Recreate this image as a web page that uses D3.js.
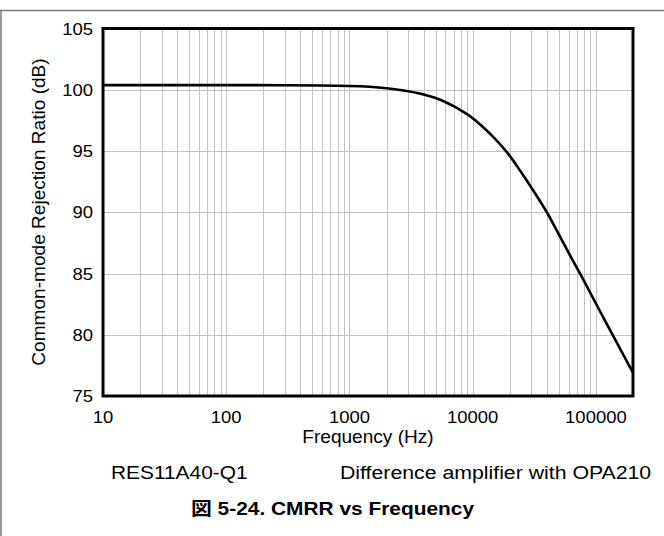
<!DOCTYPE html>
<html>
<head>
<meta charset="utf-8">
<script src="https://cdn.jsdelivr.net/npm/d3@7"></script>
<style>
  html, body { margin: 0; padding: 0; background: #fff; }
  svg { display: block; }
  text { font-family: "Liberation Sans", Arial, "Noto Sans CJK JP", sans-serif; fill: #000; }
</style>
</head>
<body>
<svg id="chart" width="664" height="536"></svg>
<script>
// ---- data ----
const freqHz = [10, 100, 300, 1000, 2000, 3000, 4000, 5000, 6000, 7000, 8000, 10000, 12000, 15000, 20000, 25000, 30000, 40000, 50000, 60000, 80000, 100000, 130000, 160000, 200000];
const cmrrDb = [100.38, 100.38, 100.37, 100.3, 100.12, 99.88, 99.62, 99.32, 99.0, 98.66, 98.32, 97.68, 97.0, 96.05, 94.6, 93.2, 92.0, 90.0, 88.2, 86.7, 84.4, 82.55, 80.4, 78.7, 76.9];
const xTickValues = [10, 100, 1000, 10000, 100000];
const xTickLabels = ["10", "100", "1000", "10000", "100000"];
const yTickValues = [75, 80, 85, 90, 95, 100, 105];
const yTickLabels = ["75", "80", "85", "90", "95", "100", "105"];
const xTitle = "Frequency (Hz)";
const yTitle = "Common-mode Rejection Ratio (dB)";
const noteLeft = "RES11A40-Q1";
const noteRight = "Difference amplifier with OPA210";
const figTitle = "図 5-24. CMRR vs Frequency";

// ---- layout ----
const svg = d3.select("#chart");
const L = 103, R = 633, T = 28.5, B = 396;
const x = d3.scaleLog().domain([10, 200000]).range([L, R]);
const y = d3.scaleLinear().domain([75, 105]).range([B, T]);

// outer figure frame (top & left)
svg.append("line").attr("x1", 0).attr("x2", 664).attr("y1", 10.5).attr("y2", 10.5)
  .attr("stroke", "#7a7a7a").attr("stroke-width", 1.5);
svg.append("line").attr("x1", 1).attr("x2", 1).attr("y1", 10).attr("y2", 536)
  .attr("stroke", "#7a7a7a").attr("stroke-width", 1.5);

// grid: vertical minor/major
const vGrid = [];
for (let d = 10; d < 200000; d *= 10) {
  for (let m = 1; m <= 9; m++) {
    const v = d * m;
    if (v > 10 && v < 200000) vGrid.push(v);
  }
}
svg.append("g").selectAll("line").data(vGrid).join("line")
  .attr("x1", d => Math.round(x(d)) + 0.5).attr("x2", d => Math.round(x(d)) + 0.5)
  .attr("y1", T).attr("y2", B)
  .attr("stroke", "#c3c3c3").attr("stroke-width", 1);
svg.append("g").selectAll("line").data(yTickValues.filter(v => v > 75 && v < 105)).join("line")
  .attr("x1", L).attr("x2", R)
  .attr("y1", d => Math.round(y(d)) + 0.5).attr("y2", d => Math.round(y(d)) + 0.5)
  .attr("stroke", "#c3c3c3").attr("stroke-width", 1);

// curve
const line = d3.line().x((d, i) => x(freqHz[i])).y(d => y(d)).curve(d3.curveMonotoneX);
svg.append("path").datum(cmrrDb).attr("d", line)
  .attr("fill", "none").attr("stroke", "#000").attr("stroke-width", 2.6)
  .attr("stroke-linejoin", "round");

// plot border
svg.append("rect").attr("x", L).attr("y", T).attr("width", R - L).attr("height", B - T)
  .attr("fill", "none").attr("stroke", "#000").attr("stroke-width", 3);

// helper for horizontally widened text
function label(tx, ty, rot, sx, size, anchor, str, weight) {
  const g = svg.append("g").attr("transform", `translate(${tx},${ty}) rotate(${rot}) scale(${sx},1)`);
  g.append("text").attr("text-anchor", anchor).attr("font-size", size)
    .attr("font-weight", weight || "normal").text(str);
}

// x tick labels
xTickValues.forEach((v, i) => label(x(v), 423, 0, 1.12, 16.5, "middle", xTickLabels[i]));
// y tick labels
yTickValues.forEach((v, i) => label(93, y(v) + 6, 0, 1.12, 16.5, "end", yTickLabels[i]));

// axis titles
label((L + R) / 2, 443, 0, 1.09, 17.5, "middle", xTitle);
label(45, 212, -90, 1.09, 17.5, "middle", yTitle);

// notes
label(111, 478.5, 0, 1.13, 18.5, "start", noteLeft);
label(340, 478.5, 0, 1.15, 18.5, "start", noteRight);

// figure title
label(332.5, 515, 0, 1.13, 18.5, "middle", figTitle, "bold");
</script>
</body>
</html>
